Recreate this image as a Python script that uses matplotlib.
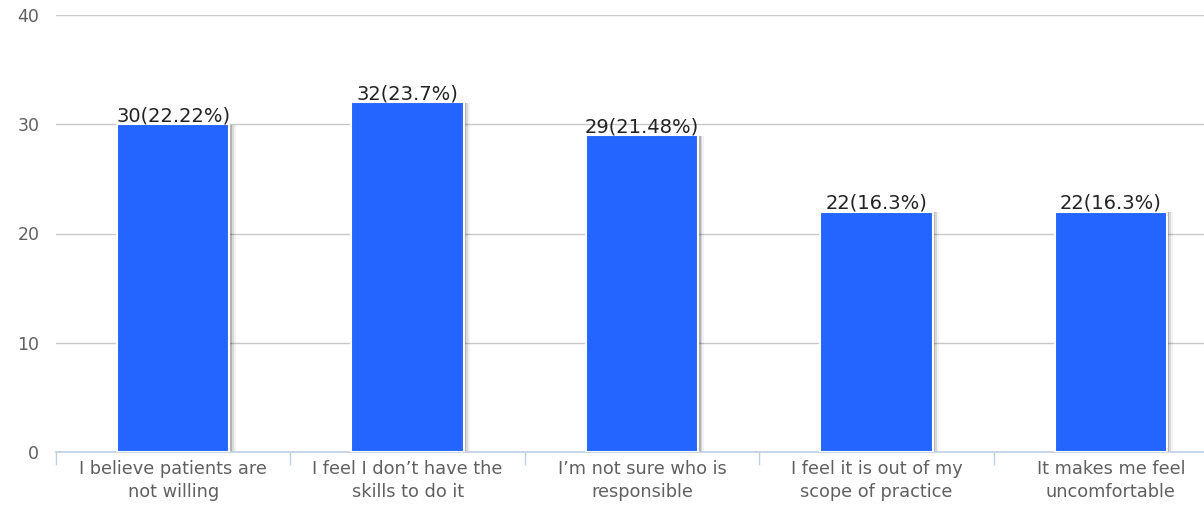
import matplotlib
matplotlib.use("Agg")
import matplotlib.pyplot as plt
import numpy as np

categories = ["I believe patients are\nnot willing", "I feel I don\u2019t have the\nskills to do it",
              "I\u2019m not sure who is\nresponsible", "I feel it is out of my\nscope of practice",
              "It makes me feel\nuncomfortable"]
values = [30, 32, 29, 22, 22]
labels = ["30(22.22%)", "32(23.7%)", "29(21.48%)", "22(16.3%)", "22(16.3%)"]
yticks = [0, 10, 20, 30, 40]

plt.rcParams["font.family"] = ["DejaVu Sans"]
W, H = 1204, 505
fig = plt.figure(figsize=(W / 100, H / 100), dpi=100)
left, right, top, bottom = 56, 1228, 15, 452
ax = fig.add_axes([left / W, (H - bottom) / H, (right - left) / W, (bottom - top) / H])

x = np.arange(len(categories))
bw = 0.48
# shadow
for dx, a in [(0.010, 0.18), (0.018, 0.10), (0.026, 0.05)]:
    ax.bar(x + dx, np.array(values) - 0.05, width=bw, color="black", alpha=a, zorder=2, linewidth=0)
ax.bar(x, values, width=bw, color="#2565FF", edgecolor="white", linewidth=1.5, zorder=3)

for xi, v, lab in zip(x, values, labels):
    ax.text(xi, v - 0.1, lab, ha="center", va="bottom", fontsize=14, color="#222222", zorder=4)

ax.set_xlim(-0.5, len(categories) - 0.5)
ax.set_ylim(0, 40)
ax.set_yticks(yticks)
ax.yaxis.grid(True, color="#C8C8C8", linewidth=1)
ax.set_axisbelow(True)
for s in ["top", "right", "left"]:
    ax.spines[s].set_visible(False)
ax.spines["bottom"].set_color("#C0D0E0")
ax.spines["bottom"].set_linewidth(1.2)
ax.tick_params(axis="y", length=0, pad=12, labelsize=12.5, labelcolor="#606060")

ax.set_xticks(x)
ax.set_xticklabels(categories, fontsize=12.8, color="#606060", linespacing=1.35)
ax.tick_params(axis="x", length=0, pad=6)
ax.set_xticks(np.arange(len(categories) + 1) - 0.5, minor=True)
ax.tick_params(axis="x", which="minor", length=9, color="#C0D0E0", width=1)

fig.savefig("out.png", dpi=100)
